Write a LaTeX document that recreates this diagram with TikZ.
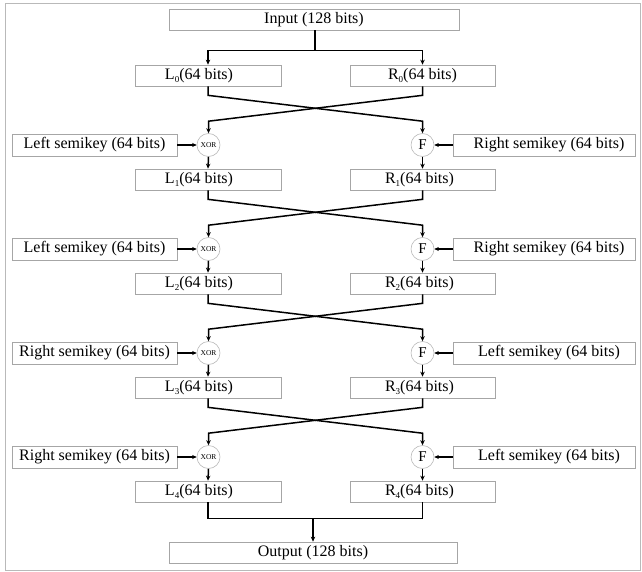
\documentclass[tikz,border=0pt]{standalone}
\usepackage{fontspec}
\setmainfont{Liberation Serif}
\usetikzlibrary{calc,arrows.meta}
\newcommand{\lowsub}[1]{\raisebox{-3.5pt}{\fontsize{9}{9}\selectfont #1}}
\begin{document}
\begin{tikzpicture}[x=1pt,y=-1pt,
  box/.style={draw=gray!70, line width=0.7pt, minimum height=21pt, inner sep=0pt,
    font=\fontsize{16}{18}\selectfont},
  keybox/.style={box, minimum height=22pt},
  op/.style={circle, draw=gray!55, line width=0.6pt, minimum size=23pt, inner sep=0pt},
  flow/.style={line width=1.5pt, -{Stealth[length=5pt,width=4.5pt]}},
  plain/.style={line width=1.5pt},
  keyarrow/.style={line width=1.2pt, -{Stealth[length=4.5pt,width=4pt]}}]
\useasboundingbox (0,0) rectangle (642,572);
\draw[gray!55, line width=0.8pt] (5,3) rectangle (640,570);

\node[box, minimum width=290pt] (In) at (314,19.5) {Input (128 bits)};
\node[box, minimum width=146pt] (L0) at (208,75.5) {L\lowsub{0}(64 bits)\hspace*{18pt}};
\node[box, minimum width=145pt] (R0) at (422.5,75.5) {R\lowsub{0}(64 bits)};

\foreach \k/\lk/\rk in {1/Left/Right,2/Left/Right,3/Right/Left,4/Right/Left}{
  \pgfmathsetmacro{\c}{145+104*(\k-1)}
  \node[op, font=\fontsize{7.5}{8}\selectfont] (X\k) at (208.5,\c) {XOR};
  \node[op, font=\fontsize{15}{16}\selectfont] (F\k) at (422.5,\c) {F};
  \node[keybox, minimum width=165pt] (LK\k) at (94.5,\c) {\lk{} semikey (64 bits)};
  \node[keybox, minimum width=182pt] (RK\k) at (544,\c) {\hspace*{10pt}\rk{} semikey (64 bits)};
  \node[box, minimum width=146pt] (L\k) at (208,\c+34.5) {L\lowsub{\k}(64 bits)\hspace*{18pt}};
  \node[box, minimum width=145pt] (R\k) at (422.5,\c+34.5) {R\lowsub{\k}(64 bits)\hspace*{6pt}};
  \draw[keyarrow] (LK\k.east) -- (X\k.west);
  \draw[keyarrow] (RK\k.west) -- (F\k.east);
  \draw[flow] (X\k.south) -- (L\k.north);
  \draw[flow] (F\k.south) -- (R\k.north);
}

\node[box, minimum width=288pt] (Out) at (313,552.5) {Output (128 bits)};

% input split
\coordinate (jt) at ($(In.south)+(1,20)$);
\draw[plain] (In.south -| jt) -- (jt);
\draw[flow] (jt) -| (L0.north);
\draw[flow] (jt) -| (R0.north);

% crossings
\foreach \p/\n in {0/1,1/2,2/3,3/4}{
  \draw[flow] (L\p.south) -- ++(0,9) -- ($(F\n.north)+(0,-12)$) -- (F\n.north);
  \draw[flow] (R\p.south) -- ++(0,9) -- ($(X\n.north)+(0,-12)$) -- (X\n.north);
}

% output join
\coordinate (jb) at ($(L4.south)+(105,16)$);
\draw[plain] (L4.south) |- (jb) -| (R4.south);
\draw[flow] (jb) -- (Out.north -| jb);
\end{tikzpicture}
\end{document}
